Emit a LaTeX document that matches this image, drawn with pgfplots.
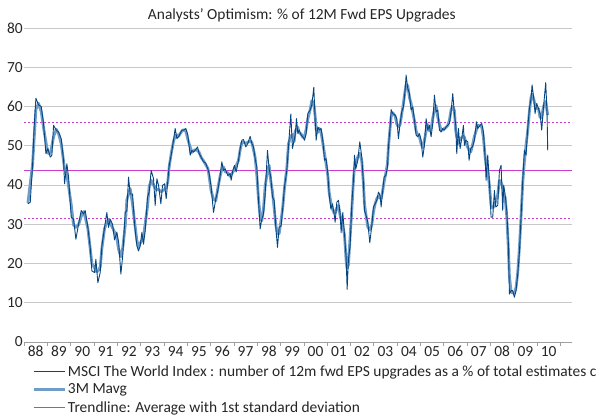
\documentclass[border=0pt]{standalone}
\usepackage{fontspec}
\setmainfont{Carlito}
\usepackage{pgfplots}
\usepackage{pgfplotstable}
\pgfplotsset{compat=1.18}
\definecolor{rawc}{RGB}{5,70,128}
\definecolor{mavc}{RGB}{112,156,200}
\definecolor{trc}{RGB}{204,60,204}
\definecolor{gridc}{RGB}{200,200,200}
\pgfplotstableread{
x y
1988.086 35.2
1988.187 35.6
1988.287 45.0
1988.359 55.0
1988.431 62.1
1988.546 60.4
1988.661 60.0
1988.761 55.7
1988.862 48.0
1988.948 49.3
1989.049 47.1
1989.121 47.6
1989.193 55.2
1989.307 54.0
1989.408 53.5
1989.523 51.8
1989.624 46.3
1989.667 40.3
1989.767 45.4
1989.839 42.0
1989.954 31.8
1990.055 31.3
1990.155 26.2
1990.270 30.0
1990.385 33.5
1990.486 32.6
1990.557 33.5
1990.672 29.2
1990.773 24.1
1990.845 18.1
1990.960 17.7
1991.017 21.1
1991.103 15.1
1991.204 17.7
1991.276 24.5
1991.391 29.2
1991.491 33.0
1991.563 29.2
1991.635 31.3
1991.736 30.0
1991.822 26.0
1991.922 28.0
1992.000 25.3
1992.095 17.3
1992.181 22.4
1992.282 33.0
1992.354 33.5
1992.425 42.0
1992.497 37.7
1992.598 37.7
1992.684 30.0
1992.785 24.5
1992.856 23.2
1992.928 24.5
1993.000 27.9
1993.072 24.9
1993.144 28.4
1993.244 36.9
1993.316 38.2
1993.402 43.7
1993.503 41.6
1993.575 34.8
1993.647 41.6
1993.719 39.9
1993.819 35.2
1993.891 39.9
1993.977 40.3
1994.049 36.5
1994.121 41.2
1994.178 45.0
1994.264 47.6
1994.365 51.4
1994.437 54.4
1994.509 51.8
1994.581 52.3
1994.652 53.1
1994.724 54.0
1994.796 54.0
1994.897 54.4
1994.983 52.7
1995.083 47.6
1995.155 48.8
1995.227 48.4
1995.299 48.8
1995.400 49.7
1995.471 48.0
1995.558 47.1
1995.658 45.9
1995.750 45.6
1995.850 44.0
1995.902 42.9
1995.988 39.5
1996.089 33.0
1996.189 36.5
1996.276 38.6
1996.376 42.4
1996.448 45.9
1996.520 43.7
1996.592 44.1
1996.707 42.4
1996.807 42.9
1996.851 41.2
1996.922 43.7
1996.994 45.0
1997.066 43.3
1997.167 46.3
1997.239 49.3
1997.310 51.4
1997.382 51.6
1997.483 49.7
1997.569 50.6
1997.669 52.4
1997.741 50.6
1997.813 49.7
1997.885 46.7
1997.957 44.6
1998.029 36.1
1998.100 28.8
1998.172 31.3
1998.244 32.6
1998.316 37.7
1998.417 48.8
1998.489 44.1
1998.560 42.0
1998.632 36.9
1998.704 36.1
1998.776 29.2
1998.848 24.1
1998.919 29.2
1999.005 29.6
1999.078 34.4
1999.149 39.5
1999.250 43.7
1999.322 49.7
1999.422 58.1
1999.494 49.3
1999.566 51.4
1999.610 52.7
1999.667 56.9
1999.725 53.1
1999.782 54.0
1999.868 52.7
1999.940 52.3
2000.012 51.4
2000.084 53.1
2000.155 58.2
2000.256 59.1
2000.328 60.4
2000.414 64.9
2000.472 56.5
2000.515 51.4
2000.587 54.8
2000.659 54.0
2000.730 54.4
2000.802 51.4
2000.874 46.3
2000.946 46.7
2001.018 42.9
2001.075 37.7
2001.147 33.9
2001.219 35.2
2001.291 32.6
2001.334 30.5
2001.406 35.6
2001.478 36.1
2001.550 32.6
2001.592 27.9
2001.664 33.0
2001.736 27.5
2001.808 21.5
2001.851 13.4
2001.908 21.1
2001.980 24.5
2002.052 35.2
2002.124 41.2
2002.167 47.6
2002.225 44.1
2002.311 46.3
2002.397 51.0
2002.483 47.1
2002.555 40.3
2002.598 33.5
2002.670 32.2
2002.742 30.5
2002.828 25.3
2002.914 29.6
2002.986 34.4
2003.058 35.2
2003.130 36.1
2003.202 38.2
2003.274 37.3
2003.317 34.4
2003.374 38.0
2003.446 42.0
2003.518 42.4
2003.590 44.5
2003.632 49.7
2003.704 54.8
2003.747 59.2
2003.819 58.2
2003.920 57.8
2003.992 56.9
2004.063 51.8
2004.135 55.7
2004.207 58.7
2004.279 59.9
2004.351 64.2
2004.394 68.0
2004.466 64.6
2004.538 63.3
2004.609 59.1
2004.681 59.9
2004.753 56.5
2004.825 52.7
2004.897 52.3
2004.969 53.1
2005.040 51.4
2005.112 47.1
2005.184 50.1
2005.256 56.9
2005.328 54.0
2005.399 55.2
2005.471 52.3
2005.543 55.7
2005.615 62.9
2005.687 58.7
2005.759 59.1
2005.830 54.0
2005.902 53.5
2005.974 54.4
2006.046 54.0
2006.118 54.8
2006.190 55.2
2006.261 55.7
2006.333 58.7
2006.405 63.3
2006.477 58.2
2006.534 55.2
2006.578 48.0
2006.649 54.4
2006.721 49.3
2006.793 51.8
2006.865 55.2
2006.908 50.1
2006.966 51.4
2007.052 51.0
2007.109 46.3
2007.181 49.3
2007.253 49.7
2007.339 51.4
2007.425 56.1
2007.483 54.4
2007.583 55.2
2007.655 55.7
2007.727 53.5
2007.799 47.1
2007.842 41.2
2007.914 47.6
2007.986 40.7
2008.057 31.8
2008.129 31.8
2008.201 38.6
2008.259 34.4
2008.345 34.8
2008.417 43.7
2008.489 45.0
2008.560 33.5
2008.603 39.9
2008.661 37.7
2008.733 33.5
2008.805 25.0
2008.848 12.2
2008.920 13.1
2008.991 13.1
2009.063 11.4
2009.135 13.1
2009.207 17.3
2009.279 22.8
2009.350 31.8
2009.422 41.2
2009.494 48.8
2009.566 47.6
2009.638 54.4
2009.710 59.5
2009.782 62.1
2009.825 65.5
2009.897 62.1
2009.954 58.2
2010.026 60.8
2010.098 59.5
2010.170 58.2
2010.241 54.0
2010.313 59.5
2010.414 66.1
2010.471 58.2
2010.500 48.8
}\rawdata
\pgfplotstableread{
x y
1988.086 35.4
1988.287 45.2
1988.431 59.2
1988.546 60.8
1988.661 58.7
1988.761 54.6
1988.862 51.0
1988.948 48.1
1989.049 48.0
1989.121 50.0
1989.193 52.3
1989.307 54.2
1989.408 53.1
1989.523 50.5
1989.624 46.1
1989.667 44.0
1989.767 42.6
1989.839 39.7
1989.954 35.0
1990.055 29.8
1990.155 29.2
1990.270 29.9
1990.385 32.0
1990.486 33.2
1990.557 31.8
1990.672 28.9
1990.773 23.8
1990.845 20.0
1990.960 19.0
1991.017 18.0
1991.103 18.0
1991.204 19.1
1991.276 23.8
1991.391 28.9
1991.491 30.5
1991.563 31.2
1991.635 30.2
1991.736 29.1
1991.822 28.0
1991.922 26.4
1992.000 23.5
1992.095 21.7
1992.181 24.2
1992.282 29.6
1992.354 36.2
1992.425 37.7
1992.497 39.1
1992.598 35.1
1992.684 30.7
1992.785 25.9
1992.856 24.1
1992.928 25.2
1993.000 25.8
1993.072 27.1
1993.144 30.1
1993.244 34.5
1993.316 39.6
1993.402 41.2
1993.503 40.0
1993.575 39.3
1993.647 38.8
1993.719 38.9
1993.819 38.3
1993.891 38.5
1993.977 38.9
1994.049 39.3
1994.121 40.9
1994.178 44.6
1994.264 48.0
1994.365 51.1
1994.437 52.5
1994.509 52.8
1994.581 52.4
1994.652 53.1
1994.724 53.7
1994.796 54.1
1994.897 53.7
1994.983 51.6
1995.083 49.7
1995.155 48.3
1995.227 48.7
1995.299 49.0
1995.400 48.8
1995.471 48.3
1995.558 47.0
1995.658 46.2
1995.750 45.2
1995.850 44.2
1995.902 42.1
1995.988 38.5
1996.089 36.3
1996.189 36.0
1996.276 39.2
1996.376 42.3
1996.448 44.0
1996.520 44.6
1996.592 43.4
1996.707 43.1
1996.807 42.2
1996.851 42.6
1996.922 43.3
1996.994 44.0
1997.066 44.9
1997.167 46.3
1997.239 49.0
1997.310 50.8
1997.382 50.9
1997.483 50.6
1997.569 50.9
1997.669 51.2
1997.741 50.9
1997.813 49.0
1997.885 47.0
1997.957 42.5
1998.029 36.5
1998.100 32.1
1998.172 30.9
1998.244 33.9
1998.316 39.7
1998.417 43.5
1998.489 45.0
1998.560 41.0
1998.632 38.3
1998.704 34.1
1998.776 29.8
1998.848 27.5
1998.919 27.6
1999.005 31.1
1999.078 34.5
1999.149 39.2
1999.250 44.3
1999.322 50.5
1999.422 52.4
1999.494 52.9
1999.566 51.1
1999.610 53.7
1999.667 54.2
1999.725 54.7
1999.782 53.3
1999.868 53.0
1999.940 52.1
2000.012 52.3
2000.084 54.2
2000.155 56.8
2000.256 59.2
2000.328 61.5
2000.414 60.6
2000.472 57.6
2000.515 54.2
2000.587 53.4
2000.659 54.4
2000.730 53.3
2000.802 50.7
2000.874 48.1
2000.946 45.3
2001.018 42.4
2001.075 38.2
2001.147 35.6
2001.219 33.9
2001.291 32.8
2001.334 32.9
2001.406 34.1
2001.478 34.8
2001.550 32.2
2001.592 31.2
2001.664 29.5
2001.736 27.3
2001.808 20.8
2001.851 18.7
2001.908 19.7
2001.980 26.9
2002.052 33.6
2002.124 41.3
2002.167 44.3
2002.225 46.0
2002.311 47.1
2002.397 48.1
2002.483 46.1
2002.555 40.3
2002.598 35.3
2002.670 32.1
2002.742 29.3
2002.828 28.5
2002.914 29.8
2002.986 33.1
2003.058 35.2
2003.130 36.5
2003.202 37.2
2003.274 36.6
2003.317 36.6
2003.374 38.2
2003.446 40.8
2003.518 43.0
2003.590 45.5
2003.632 49.7
2003.704 54.6
2003.747 57.4
2003.819 58.4
2003.920 57.6
2003.992 55.5
2004.063 54.8
2004.135 55.4
2004.207 58.1
2004.279 60.9
2004.351 64.0
2004.394 65.6
2004.466 65.3
2004.538 62.3
2004.609 60.8
2004.681 58.5
2004.753 56.4
2004.825 53.8
2004.897 52.7
2004.969 52.3
2005.040 50.5
2005.112 49.5
2005.184 51.4
2005.256 53.7
2005.328 55.4
2005.399 53.8
2005.471 54.4
2005.543 57.0
2005.615 59.1
2005.687 60.2
2005.759 57.3
2005.830 55.5
2005.902 54.0
2005.974 54.0
2006.046 54.4
2006.118 54.7
2006.190 55.2
2006.261 56.5
2006.333 59.2
2006.405 60.1
2006.477 58.9
2006.534 53.8
2006.578 52.5
2006.649 50.6
2006.721 51.8
2006.793 52.1
2006.865 52.4
2006.908 52.2
2006.966 50.8
2007.052 49.6
2007.109 48.9
2007.181 48.4
2007.253 50.1
2007.339 52.4
2007.425 54.0
2007.483 55.2
2007.583 55.1
2007.655 54.8
2007.727 52.1
2007.799 47.3
2007.842 45.3
2007.914 43.2
2007.986 40.0
2008.057 34.8
2008.129 34.1
2008.201 34.9
2008.259 35.9
2008.345 37.6
2008.417 41.2
2008.489 40.7
2008.560 39.5
2008.603 37.0
2008.661 37.0
2008.733 32.1
2008.805 23.6
2008.848 16.8
2008.920 12.8
2008.991 12.5
2009.063 12.5
2009.135 13.9
2009.207 17.7
2009.279 24.0
2009.350 31.9
2009.422 40.6
2009.494 45.9
2009.566 50.3
2009.638 53.8
2009.710 58.7
2009.782 62.4
2009.825 63.2
2009.897 61.9
2009.954 60.4
2010.026 59.5
2010.098 59.5
2010.170 57.2
2010.241 57.2
2010.313 59.9
2010.414 61.3
2010.500 57.8
}\mavdata
\begin{document}
\begin{tikzpicture}
\begin{axis}[
  at={(24bp,75bp)}, anchor=south west,
  scale only axis, width=548bp, height=314bp,
  xmin=1987.918, xmax=2011.547, ymin=0, ymax=80,
  ytick={0,10,...,80},
  ymajorgrids, grid style={gridc, line width=0.9bp},
  axis x line*=bottom, axis y line*=left,
  y axis line style={draw=none},
  x axis line style={draw=gray!75, line width=0.8bp, -},
  xtick={1988.421,1989.427,1990.432,1991.438,1992.443,1993.449,1994.455,1995.460,1996.466,1997.471,1998.477,1999.483,2000.488,2001.494,2002.499,2003.505,2004.511,2005.516,2006.522,2007.527,2008.533,2009.539,2010.544},
  xticklabels={88,89,90,91,92,93,94,95,96,97,98,99,00,01,02,03,04,05,06,07,08,09,10},
  minor xtick={1987.918,1988.924,1989.929,1990.935,1991.940,1992.946,1993.952,1994.957,1995.963,1996.968,1997.974,1998.980,1999.985,2000.991,2001.996,2003.002,2004.008,2005.013,2006.019,2007.024,2008.030,2009.036,2010.041,2011.047},
  major tick length=0pt, minor tick length=3.5bp, tick align=outside,
  minor tick style={draw=gray!75, line width=0.7bp},
  /pgf/number format/assume math mode=true,
  ticklabel style={font=\fontsize{15.5}{17}\selectfont, text=black!85},
  yticklabel style={inner xsep=1bp},
  xticklabel style={inner ysep=4bp},
  title={Analysts' Optimism: \% of 12M Fwd EPS Upgrades},
  title style={font=\fontsize{15.5}{17}\selectfont, text=black!85, at={(axis description cs:0.507,1)}, anchor=south, yshift=-4bp},
  legend style={at={(axis description cs:0,0)}, anchor=north west, xshift=5bp, yshift=-19.5bp,
    draw=none, fill=none, font=\fontsize{15.5}{17}\selectfont, text=black!85, row sep=2bp,
    legend cell align=left},
  legend image code/.code={\draw[#1] (0bp,0bp) -- (25bp,0bp); \path (0bp,0bp) -- (31bp,0bp);},
  clip=false,
]
\addplot[trc, line width=1.2bp, forget plot] coordinates {(1987.918,43.7) (2011.547,43.7)};
\addplot[trc, line width=0.9bp, dash pattern=on 2bp off 2bp, forget plot] coordinates {(1987.918,56.0) (2011.547,56.0)};
\addplot[trc, line width=0.9bp, dash pattern=on 2bp off 2bp, forget plot] coordinates {(1987.918,31.4) (2011.547,31.4)};
\addplot[mavc, line width=2.8bp, line join=round, forget plot] table[x=x,y=y] {\mavdata};
\addplot[rawc, line width=0.9bp, line join=round, forget plot] table[x=x,y=y] {\rawdata};
\addlegendimage{rawc, line width=0.9bp}
\addlegendentry{MSCI The World Index : number of 12m fwd EPS upgrades as a \% of total estimates changes}
\addlegendimage{mavc, line width=2.8bp}
\addlegendentry{3M Mavg}
\addlegendimage{trc, line width=1.2bp}
\addlegendentry{Trendline: Average with 1st standard deviation}
\end{axis}
\pgfresetboundingbox
\useasboundingbox (0,0) rectangle (597bp,417bp);
\end{tikzpicture}
\end{document}
